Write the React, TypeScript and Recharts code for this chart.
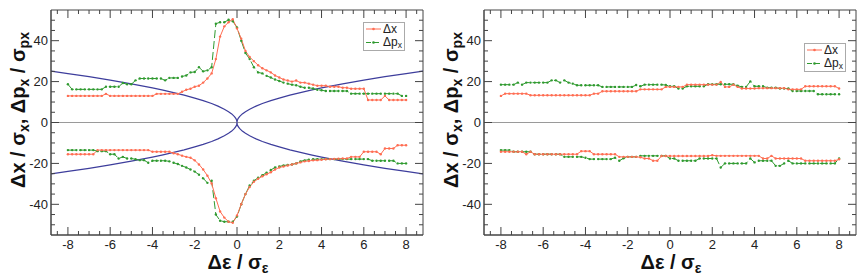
import React from 'react';
import { LineChart, Line, XAxis, YAxis, ReferenceLine, ReferenceArea, Legend } from 'recharts';

// ---------- data ----------
const X_GRID = [
  -8, -7.8, -7.6, -7.4, -7.2, -7, -6.8, -6.6, -6.4, -6.2,
  -6, -5.8, -5.6, -5.4, -5.2, -5, -4.8, -4.6, -4.4, -4.2,
  -4, -3.8, -3.6, -3.4, -3.2, -3, -2.8, -2.6, -2.4, -2.2,
  -2, -1.8, -1.6, -1.4, -1.2, -1, -0.8, -0.6, -0.4, -0.2,
  0, 0.2, 0.4, 0.6, 0.8, 1, 1.2, 1.4, 1.6, 1.8,
  2, 2.2, 2.4, 2.6, 2.8, 3, 3.2, 3.4, 3.6, 3.8,
  4, 4.2, 4.4, 4.6, 4.8, 5, 5.2, 5.4, 5.6, 5.8,
  6, 6.2, 6.4, 6.6, 6.8, 7, 7.2, 7.4, 7.6, 7.8,
  8,
];

// left panel
const LEFT_DX_UP = [
  13, 13, 13, 13, 13, 13, 13, 13, 13, 14,
  13, 13, 13, 13, 13, 13, 13, 13, 13, 13,
  13, 14, 14, 14, 14, 14, 14, 15, 16, 16.5,
  17.5, 18, 19.5, 21.5, 24, 31, 42, 47, 49, 50.5,
  46, 41, 35, 32, 30, 28, 26.5, 25.5, 24.5, 23,
  22, 21, 20.5, 20, 20.5, 19.5, 19.5, 19, 18.5, 18,
  18, 18, 17.5, 17.5, 17.5, 17, 17, 16.5, 16.5, 16.5,
  16.5, 11, 11, 11, 11, 13, 11, 11, 11, 11,
  11,
];
const LEFT_DP_UP = [
  18.7, 16.2, 16.2, 16.2, 16.2, 16.2, 16.2, 16.2, 16.2, 17.5,
  17.5, 17.5, 17.5, 19.3, 18.7, 18.7, 20.6, 21.5, 21.5, 21.5,
  21.5, 21.5, 21.5, 20.6, 21.8, 21.8, 21.8, 22.5, 23, 24.5,
  24.7, 27, 25, 25.5, 27, 48.3, 49, 49, 50.2, 49.5,
  46.5, 40, 34, 31, 27, 24.5, 24, 22.8, 22, 21,
  20.3, 19.5, 19, 18.5, 18.2, 17.5, 17, 17, 16.6, 16,
  15.8, 15.4, 15.4, 15.4, 15.4, 15.4, 15.4, 14.1, 14.1, 14.1,
  14.1, 14.1, 14.1, 14.1, 14.1, 14.1, 14.1, 14.1, 14.1, 13,
  13,
];
const LEFT_DX_LOW = [
  -15.5, -15.5, -15.5, -15.5, -15.5, -15.5, -15.5, -13.5, -13.5, -13.5,
  -13.5, -13.5, -13.5, -13.5, -13.5, -13.5, -13.5, -13.5, -13.5, -13.5,
  -14.3, -14.3, -14.3, -14.3, -14.3, -15, -15.5, -16.2, -16.8, -17.2,
  -18.5, -20.5, -23, -26, -29.8, -37, -43.5, -46.5, -48.5, -49,
  -45.5, -40, -35, -31.5, -29, -27.5, -26.3, -25.3, -24.3, -23,
  -22, -21.5, -21, -20.5, -20, -19.5, -19, -18.8, -18.5, -18.4,
  -18.2, -18, -17.9, -17.8, -17.7, -17.6, -17.6, -16.8, -16.8, -16.8,
  -14.3, -14.3, -14.3, -14.3, -15.5, -12.7, -12.7, -12.7, -11.1, -11.1,
  -11.1,
];
const LEFT_DP_LOW = [
  -13.5, -13.5, -13.5, -13.5, -13.5, -13.5, -13.5, -14, -14, -14,
  -15.5, -15.5, -17.6, -16.8, -17.6, -17.6, -18, -18.4, -18.4, -19.7,
  -18.7, -18.7, -18.7, -18.7, -19, -19.7, -20.3, -21.2, -22, -23,
  -24, -25.5, -27.3, -29.5, -28.5, -45, -48, -48.5, -48.5, -48.5,
  -46, -40, -35, -30.8, -28.5, -27, -25.8, -24.5, -23.2, -22,
  -21.5, -21, -20.8, -20.5, -20, -19, -18.5, -18.2, -18, -17.9,
  -17.9, -17.9, -17.9, -17.9, -17.9, -17.9, -17.9, -17.9, -17.9, -17.9,
  -17.9, -17.9, -18.7, -18.7, -18.7, -18.7, -18.7, -18.7, -20, -20,
  -20,
];

// blue reference curves (left panel)
const BLUE_X = [
  -8.8, -8, -7, -6, -5, -4, -3.5, -3, -2.5, -2, -1.6, -1.2, -0.9, -0.6, -0.4, -0.25, -0.12, -0.05, -0.01, 0,
  0.01, 0.05, 0.12, 0.25, 0.4, 0.6, 0.9, 1.2, 1.6, 2, 2.5, 3, 3.5, 4, 5, 6, 7, 8, 8.8,
];
const BLUE_UP = [
  25.1, 23.9, 22.4, 20.7, 18.9, 16.9, 15.8, 14.6, 13.4, 11.9, 10.7, 9.3, 8.0, 6.5, 5.3, 4.2, 2.9, 1.9, 0.8, 0,
  0.8, 1.9, 2.9, 4.2, 5.3, 6.5, 8.0, 9.3, 10.7, 11.9, 13.4, 14.6, 15.8, 16.9, 18.9, 20.7, 22.4, 23.9, 25.1,
];
const BLUE_LOW = [
  -25.1, -23.9, -22.4, -20.7, -18.9, -16.9, -15.8, -14.6, -13.4, -11.9, -10.7, -9.3, -8.0, -6.5, -5.3, -4.2, -2.9, -1.9, -0.8, 0,
  -0.8, -1.9, -2.9, -4.2, -5.3, -6.5, -8.0, -9.3, -10.7, -11.9, -13.4, -14.6, -15.8, -16.9, -18.9, -20.7, -22.4, -23.9, -25.1,
];

// right panel
const RIGHT_DX_UP = [
  13, 14.1, 14.1, 14.1, 14.1, 14.1, 14.1, 13.3, 13.3, 13.3,
  13.3, 13.3, 13.3, 13.3, 13.3, 13.3, 13.3, 13.3, 13.3, 13.3,
  13.3, 13.3, 14.1, 14.1, 15.3, 15.3, 15.3, 15.3, 15.3, 15.3,
  15.3, 15.3, 15.3, 16.2, 16.2, 16.2, 16.2, 16.2, 16.2, 17.4,
  17.4, 17.4, 17.4, 17.4, 18.5, 18.5, 18.5, 18.5, 18.5, 18.5,
  18.5, 18.5, 19.8, 17.4, 17.4, 18.5, 17.4, 16.6, 16.6, 16.6,
  16.6, 16.8, 16.8, 16.8, 16.8, 16.8, 16.8, 16.8, 16.2, 16.2,
  16.2, 16.2, 17.7, 17.7, 17.7, 17.7, 17.7, 17.7, 17.7, 17.7,
  16.6,
];
const RIGHT_DP_UP = [
  18.5, 18.5, 18.5, 18.5, 19.5, 18.5, 19.5, 19.5, 19.5, 19.5,
  19.5, 19.5, 20.6, 20.6, 19.5, 20.6, 19.5, 19, 18.2, 18.2,
  18.2, 18.2, 18.2, 18.2, 17.4, 17.4, 17.4, 17.4, 17.4, 17.4,
  17.4, 17.4, 18.3, 17.7, 18.5, 18.5, 18.5, 18.5, 18.5, 18.3,
  17.7, 17.7, 16.6, 16.6, 17.7, 17.7, 17.7, 17.7, 17.7, 18.7,
  18.7, 18.7, 18.7, 18.7, 18.7, 18.7, 18, 17.4, 17.4, 20.1,
  17.7, 17.7, 17.7, 17, 17, 17, 16.6, 16.6, 16.6, 15.4,
  15.4, 15.4, 15.4, 15.4, 15.4, 13.8, 13.8, 13.8, 13.8, 13.8,
  13.8,
];
const RIGHT_DX_LOW = [
  -14.3, -14.3, -14.3, -14.3, -14.3, -14.3, -15.5, -14.3, -15.5, -15.5,
  -15.5, -15.5, -15.5, -15.5, -15.5, -15.5, -15.5, -15.5, -15.5, -14,
  -14, -14, -15.5, -15.5, -15.5, -15.5, -15.5, -15.5, -16.8, -16.8,
  -16.8, -16.8, -16.8, -17, -17.6, -17.6, -18.7, -18.7, -16.4, -16.4,
  -16.4, -16.4, -16.4, -16.4, -16.4, -16.4, -16.4, -16.4, -16.4, -16.4,
  -16, -16.3, -16.3, -16.3, -16.3, -16.3, -16.3, -16.3, -16.3, -16.3,
  -16.3, -16.3, -17.6, -17.6, -16.3, -17.6, -17.6, -17.6, -17.6, -17.6,
  -17.6, -17.6, -18.7, -18.7, -18.7, -18.7, -18.7, -18.7, -18.7, -18.7,
  -18,
];
const RIGHT_DP_LOW = [
  -13.5, -13.5, -13.5, -14.3, -14.3, -14.3, -14.3, -14.3, -15.5, -15.5,
  -15.5, -15.5, -15.5, -15.5, -15.5, -16.8, -16.8, -16.8, -16.8, -16.8,
  -17.2, -17.9, -17.9, -17.9, -17.9, -17.9, -17.9, -17.2, -18.7, -17.5,
  -16.8, -16.8, -16.8, -16.3, -16.3, -16.3, -16.3, -16.3, -16.3, -16.3,
  -17.6, -17.6, -18.7, -18.7, -18.7, -18.7, -18.7, -17.6, -17.6, -17.6,
  -17.6, -17.6, -22, -20, -20, -20, -20, -20, -20, -17.6,
  -19.5, -18.7, -18.7, -18.7, -18.7, -21.2, -21.2, -20, -18.7, -20,
  -20, -20, -20, -20, -20, -20, -20, -20, -20, -20,
  -17.6,
];

// axes
const X_DOMAIN = [-8.8, 8.8];
const Y_DOMAIN = [-55, 55];
const X_TICKS = [
  -8.5, -8, -7.5, -7, -6.5, -6, -5.5, -5, -4.5, -4, -3.5, -3, -2.5, -2, -1.5, -1, -0.5, 0,
  0.5, 1, 1.5, 2, 2.5, 3, 3.5, 4, 4.5, 5, 5.5, 6, 6.5, 7, 7.5, 8, 8.5,
];
const X_LABELS = [-8, -6, -4, -2, 0, 2, 4, 6, 8];
const Y_TICKS = [-50, -45, -40, -35, -30, -25, -20, -15, -10, -5, 0, 5, 10, 15, 20, 25, 30, 35, 40, 45, 50];
const Y_LABELS = [-40, -20, 0, 20, 40];

// ---------- style ----------
const RED = '#ff6d52';
const GREEN = '#2f9a2f';
const BLUE = '#3d3d9c';
const AXIS = '#444';
const ZERO = '#9a9a9a';
const FONT = '"Liberation Sans", Arial, sans-serif';

const CH_H = 279;
const PLOT_LEFT = 51;
const PLOT_TOP = 10;
const PLOT_W = 372;
const PLOT_H = 225;

const XTick = (props: any) => {
  const { x, y, payload } = props;
  const v = payload.value;
  const major = X_LABELS.indexOf(v) >= 0;
  const len = major ? 8 : 4;
  return (
    <g>
      <line x1={x} y1={y} x2={x} y2={y - len} stroke={AXIS} strokeWidth={1} />
      <line x1={x} y1={y - PLOT_H} x2={x} y2={y - PLOT_H + len} stroke={AXIS} strokeWidth={1} />
      {major && (
        <text x={x} y={y + 14} textAnchor="middle" fontSize={13} fill="#222" fontFamily={FONT}>
          {v}
        </text>
      )}
    </g>
  );
};

const YTick = (props: any) => {
  const { x, y, payload } = props;
  const v = payload.value;
  const major = Y_LABELS.indexOf(v) >= 0;
  const len = major ? 8 : 4;
  return (
    <g>
      <line x1={x} y1={y} x2={x + len} y2={y} stroke={AXIS} strokeWidth={1} />
      <line x1={x + PLOT_W} y1={y} x2={x + PLOT_W - len} y2={y} stroke={AXIS} strokeWidth={1} />
      {major && (
        <text x={x - 3} y={y + 4.5} textAnchor="end" fontSize={13} fill="#222" fontFamily={FONT}>
          {v}
        </text>
      )}
    </g>
  );
};

const LegendBox = () => (
  <div
    style={{
      width: 42,
      height: 29,
      border: '1px solid #aaa',
      background: '#fff',
      boxSizing: 'border-box',
    }}
  >
    <svg width={40} height={27} style={{ display: 'block' }}>
      <line x1={2} y1={6} x2={17} y2={6} stroke={RED} strokeWidth={1} />
      <circle cx={9.5} cy={6} r={1.3} fill={RED} />
      <text x={19} y={10} fontSize={12} fill="#222" fontFamily={FONT}>Δx</text>
      <line x1={2} y1={19.5} x2={17} y2={19.5} stroke={GREEN} strokeWidth={1} strokeDasharray="5 3" />
      <circle cx={9.5} cy={19.5} r={1.3} fill={GREEN} />
      <text x={19} y={23} fontSize={12} fill="#222" fontFamily={FONT}>
        Δp<tspan fontSize={8.5} dy={2}>x</tspan>
      </text>
    </svg>
  </div>
);

const buildRows = (a: number[], b: number[], c: number[], d: number[]) =>
  X_GRID.map((x, i) => ({ x, dxUp: a[i], dpUp: b[i], dxLow: c[i], dpLow: d[i] }));

const leftRows = buildRows(LEFT_DX_UP, LEFT_DP_UP, LEFT_DX_LOW, LEFT_DP_LOW);
const rightRows = buildRows(RIGHT_DX_UP, RIGHT_DP_UP, RIGHT_DX_LOW, RIGHT_DP_LOW);
const blueRows = BLUE_X.map((x, i) => ({ x, up: BLUE_UP[i], low: BLUE_LOW[i] }));

const dotStyle = (c: string) => ({ r: 1.2, fill: c, stroke: 'none' });

const Panel = ({ rows, width, withBlue, legendLeft, legendTop }: any) => (
  <LineChart
    width={width}
    height={CH_H}
    data={rows}
    margin={{ top: PLOT_TOP, right: width - PLOT_LEFT - PLOT_W, bottom: 0, left: 0 }}
  >
    <XAxis
      type="number"
      dataKey="x"
      domain={X_DOMAIN}
      allowDataOverflow
      ticks={X_TICKS}
      interval={0}
      tick={<XTick />}
      tickLine={false}
      tickSize={0}
      tickMargin={0}
      height={CH_H - PLOT_TOP - PLOT_H}
      axisLine={{ stroke: AXIS }}
    />
    <YAxis
      type="number"
      domain={Y_DOMAIN}
      allowDataOverflow
      ticks={Y_TICKS}
      interval={0}
      tick={<YTick />}
      tickLine={false}
      tickSize={0}
      tickMargin={0}
      width={PLOT_LEFT}
      axisLine={{ stroke: AXIS }}
    />
    <ReferenceArea x1={-8.8} x2={8.8} y1={-55} y2={55} fill="none" stroke={AXIS} strokeWidth={1} ifOverflow="visible" />
    <ReferenceLine y={0} stroke={ZERO} strokeWidth={1} />
    {withBlue && (
      <Line data={blueRows} dataKey="up" type="linear" stroke={BLUE} strokeWidth={1.2} dot={false} activeDot={false} isAnimationActive={false} legendType="none" />
    )}
    {withBlue && (
      <Line data={blueRows} dataKey="low" type="linear" stroke={BLUE} strokeWidth={1.2} dot={false} activeDot={false} isAnimationActive={false} legendType="none" />
    )}
    <Line dataKey="dpUp" type="linear" stroke={GREEN} strokeWidth={1} strokeDasharray="8 3" dot={dotStyle(GREEN)} activeDot={false} isAnimationActive={false} />
    <Line dataKey="dpLow" type="linear" stroke={GREEN} strokeWidth={1} strokeDasharray="8 3" dot={dotStyle(GREEN)} activeDot={false} isAnimationActive={false} />
    <Line dataKey="dxUp" type="linear" stroke={RED} strokeWidth={1} dot={dotStyle(RED)} activeDot={false} isAnimationActive={false} />
    <Line dataKey="dxLow" type="linear" stroke={RED} strokeWidth={1} dot={dotStyle(RED)} activeDot={false} isAnimationActive={false} />
    <Legend
      layout="horizontal"
      verticalAlign="middle"
      align="center"
      content={() => <LegendBox />}
      wrapperStyle={{ left: legendLeft, top: legendTop, width: 42, height: 29 }}
    />
  </LineChart>
);

const subStyle: React.CSSProperties = { fontSize: '0.7em', verticalAlign: '-0.3em', lineHeight: 0 };

const YTitle = ({ cx, cy }: { cx: number; cy: number }) => (
  <div
    style={{
      position: 'absolute',
      left: cx - 110,
      top: cy - 12,
      width: 220,
      height: 24,
      lineHeight: '24px',
      textAlign: 'center',
      transform: 'rotate(-90deg)',
      transformOrigin: '50% 50%',
      fontFamily: FONT,
      fontWeight: 'bold',
      fontSize: 20,
      color: '#111',
      whiteSpace: 'nowrap',
    }}
  >
    Δx / σ<span style={subStyle}>x</span>, Δp<span style={subStyle}>x</span> / σ<span style={subStyle}>px</span>
  </div>
);

const XTitle = ({ cx, top }: { cx: number; top: number }) => (
  <div
    style={{
      position: 'absolute',
      left: cx - 60,
      top,
      width: 120,
      height: 22,
      lineHeight: '22px',
      textAlign: 'center',
      fontFamily: FONT,
      fontWeight: 'bold',
      fontSize: 20,
      color: '#111',
      whiteSpace: 'nowrap',
    }}
  >
    Δε / σ<span style={subStyle}>ε</span>
  </div>
);

export default function App() {
  const RIGHT_OFFSET = 433;
  return (
    <div style={{ position: 'absolute', left: 0, top: 0, width: 862, height: 279, background: '#fff', overflow: 'hidden' }}>
      <div style={{ position: 'absolute', left: 0, top: 0 }}>
        <Panel rows={leftRows} width={431} withBlue legendLeft={363} legendTop={22} />
      </div>
      <div style={{ position: 'absolute', left: RIGHT_OFFSET, top: 0 }}>
        <Panel rows={rightRows} width={429} withBlue={false} legendLeft={804 - RIGHT_OFFSET} legendTop={43} />
      </div>
      <YTitle cx={18} cy={110} />
      <YTitle cx={RIGHT_OFFSET + 18} cy={110} />
      <XTitle cx={238} top={251} />
      <XTitle cx={RIGHT_OFFSET + 238} top={251} />
    </div>
  );
}
